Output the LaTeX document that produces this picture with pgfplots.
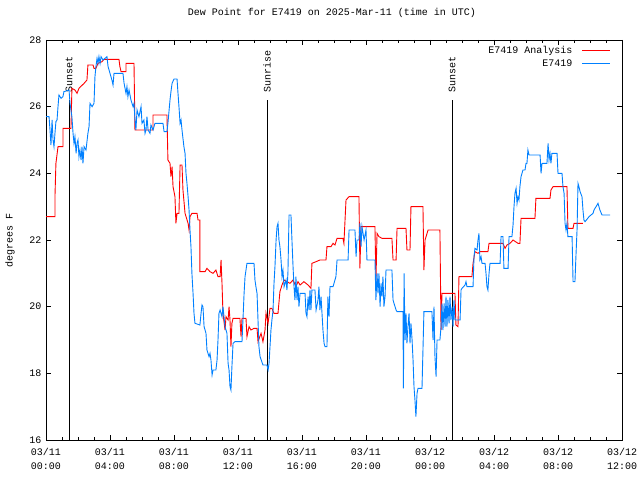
\documentclass[border=0pt]{standalone}
\usepackage{fontspec}
\setmainfont{Liberation Mono}
\usepackage{pgfplots}
\pgfplotsset{compat=1.18}
\definecolor{anared}{RGB}{255,0,0}
\definecolor{obsblue}{RGB}{0,128,255}
\begin{document}
\begin{tikzpicture}[x=1pt,y=1pt]
\useasboundingbox (0,0) rectangle (640,480);
\begin{axis}[
  at={(46pt,40pt)}, anchor=south west,
  scale only axis, width=576pt, height=400pt,
  xmin=0, xmax=36, ymin=16, ymax=28,
  xtick={0,4,...,36},
  xticklabels={03/11\\00:00,03/11\\04:00,03/11\\08:00,03/11\\12:00,03/11\\16:00,03/11\\20:00,03/12\\00:00,03/12\\04:00,03/12\\08:00,03/12\\12:00},
  minor xtick={1,2,3,5,6,7,9,10,11,13,14,15,17,18,19,21,22,23,25,26,27,29,30,31,33,34,35},
  ytick={16,18,...,28},
  tick align=inside,
  major tick length=5pt, minor tick length=3pt,
  xtick pos=both, ytick pos=both,
  axis line style={black, line width=0.9pt},
  every tick/.style={black, line width=0.9pt},
  /pgf/number format/assume math mode=true,
  tick label style={font=\fontsize{10}{14}\selectfont},
  xticklabel style={align=center, yshift=-5pt},
  yticklabel style={xshift=-1pt},
  ylabel={degrees F},
  ylabel style={at={(axis description cs:-0.0625,0.5)}, anchor=center, font=\fontsize{10}{12}\selectfont},
  title={Dew Point for E7419 on 2025-Mar-11 (time in UTC)},
  title style={at={(axis description cs:0.4965,1.0525)}, anchor=center, font=\fontsize{10}{12}\selectfont},
  legend style={draw=none, fill=none, at={(axis description cs:0.9861,0.993)}, anchor=north east,
    font=\fontsize{10}{12}\selectfont, row sep=1.5pt, nodes={inner sep=1.5pt}},
  legend plot pos=right, legend cell align=right,
  legend image code/.code={\path (0pt,0pt); \draw[#1] (8pt,0pt) -- (36pt,0pt);},
]
% Sun lines
\addplot[black, line width=0.9pt, forget plot] coordinates {(1.44,16) (1.44,26.2)};
\addplot[black, line width=0.9pt, forget plot] coordinates {(13.81,16) (13.81,26.2)};
\addplot[black, line width=0.9pt, forget plot] coordinates {(25.38,16) (25.38,26.2)};
\node[rotate=90, anchor=west, font=\fontsize{10}{12}\selectfont, inner sep=0pt] at (axis cs:1.44,26.42) {Sunset};
\node[rotate=90, anchor=west, font=\fontsize{10}{12}\selectfont, inner sep=0pt] at (axis cs:13.81,26.42) {Sunrise};
\node[rotate=90, anchor=west, font=\fontsize{10}{12}\selectfont, inner sep=0pt] at (axis cs:25.38,26.42) {Sunset};
% Analysis
\addplot[anared, line width=0.9pt, sharp plot] coordinates {
(0.00,22.7) (0.56,22.7) (0.56,23.3) (0.62,24.3) (0.75,24.8) (1.06,24.8) (1.06,25.35) (1.56,25.35)
(1.62,26.55) (1.81,26.5) (1.94,26.4) (2.06,26.55) (2.38,26.7) (2.56,26.8) (2.62,27.25) (2.94,27.25)
(3.00,27.15) (3.12,27.15) (3.25,27.3) (3.50,27.35) (3.62,27.42) (4.56,27.42) (4.62,27.2) (4.69,27.05)
(5.00,27.05) (5.00,27.3) (5.50,27.3) (5.56,25.3) (6.69,25.3) (6.69,25.75) (7.56,25.75) (7.62,24.4)
(7.75,24.3) (7.81,23.9) (7.88,24.2) (7.94,23.6) (8.06,23.3) (8.12,22.5) (8.19,22.8) (8.31,22.8)
(8.38,24.25) (8.50,24.25) (8.56,23.5) (8.69,22.8) (8.88,22.5) (8.94,22.3) (9.00,22.7) (9.12,22.8)
(9.44,22.8) (9.50,22.6) (9.62,22.6) (9.62,21.05) (9.94,21.05) (10.06,21.15) (10.25,21.05) (10.44,21.0)
(10.62,21.1) (10.75,20.9) (10.88,20.9) (10.94,21.4) (11.00,20.7) (11.06,19.8) (11.19,19.3) (11.25,19.7)
(11.38,19.6) (11.44,20.0) (11.50,19.6) (11.56,18.8) (11.62,19.5) (11.69,19.65) (12.12,19.65) (12.19,19.1)
(12.25,19.65) (12.50,19.65) (12.56,19.1) (12.69,19.4) (12.81,19.3) (13.00,19.35) (13.19,19.35) (13.25,18.95)
(13.44,19.2) (13.56,18.95) (13.69,19.3) (13.75,19.8) (13.88,19.5) (14.00,19.95) (14.12,19.95) (14.25,19.8)
(14.50,19.8) (14.62,20.45) (14.75,20.65) (14.88,20.8) (15.06,20.75) (15.25,20.7) (15.44,20.8) (15.62,20.6)
(15.75,20.75) (15.88,20.65) (16.12,20.75) (16.38,20.65) (16.56,20.55) (16.62,21.3) (16.88,21.35) (17.12,21.4)
(17.50,21.4) (17.56,21.8) (17.81,21.8) (17.94,21.9) (18.06,21.85) (18.19,22.05) (18.56,22.05) (18.62,21.9)
(18.75,23.2) (18.94,23.3) (19.56,23.3) (19.62,21.15) (19.69,22.4) (20.56,22.4) (20.62,20.75) (20.69,22.2)
(20.81,22.1) (21.00,22.05) (21.62,22.05) (21.69,21.4) (21.88,21.4) (21.94,22.35) (22.50,22.35) (22.56,21.7)
(22.75,21.7) (22.81,23.0) (23.56,23.0) (23.62,21.1) (23.69,22.0) (23.88,22.3) (24.62,22.3) (24.69,19.3)
(24.75,20.4) (25.56,20.4) (25.62,19.45) (25.75,19.4) (25.81,20.9) (26.62,20.9) (26.69,21.3) (26.81,21.65)
(27.00,21.6) (27.12,21.65) (27.62,21.65) (27.69,21.9) (28.56,21.9) (28.69,21.75) (28.81,21.85) (29.00,21.9)
(29.19,22.0) (29.50,21.9) (29.62,21.9) (29.69,22.65) (30.56,22.65) (30.62,23.25) (31.50,23.25) (31.56,23.5)
(31.69,23.6) (32.56,23.6) (32.62,22.35) (32.94,22.35) (33.00,22.5) (33.56,22.5)
};
\addlegendentry{E7419 Analysis}
% Observed
\addplot[obsblue, line width=0.9pt, sharp plot] coordinates {
(0.00,25.7) (0.19,25.7) (0.25,25.3) (0.31,24.85) (0.38,25.6) (0.44,25.0) (0.50,24.8) (0.56,25.2)
(0.62,25.55) (0.69,25.6) (0.75,26.0) (0.81,26.35) (0.94,26.25) (1.06,26.3) (1.12,26.45) (1.44,26.5)
(1.50,26.1) (1.62,25.7) (1.69,25.2) (1.75,24.9) (1.81,25.1) (1.88,24.6) (1.94,24.9) (2.00,25.0)
(2.06,24.5) (2.12,24.7) (2.19,24.4) (2.25,24.8) (2.31,24.3) (2.38,24.8) (2.50,24.7) (2.62,25.2)
(2.69,25.4) (2.75,26.1) (2.88,26.0) (3.00,26.1) (3.06,26.9) (3.12,27.2) (3.19,27.45) (3.25,27.3)
(3.31,27.5) (3.38,27.3) (3.44,27.5) (3.56,27.4) (3.69,27.45) (3.81,27.5) (3.88,27.2) (4.00,27.0)
(4.12,26.8) (4.19,26.65) (4.25,27.0) (4.81,27.0) (4.88,26.7) (5.00,26.4) (5.06,26.6) (5.12,26.3)
(5.19,26.5) (5.31,26.2) (5.44,26.0) (5.50,26.1) (5.56,25.6) (5.62,25.3) (5.69,25.9) (5.81,25.7)
(5.94,26.0) (6.00,25.5) (6.12,25.6) (6.19,25.2) (6.25,25.3) (6.31,25.7) (6.38,25.3) (6.50,25.2)
(6.56,25.45) (6.69,25.3) (6.81,25.5) (7.31,25.5) (7.38,25.25) (7.56,25.25) (7.62,25.5) (7.75,26.2)
(7.81,26.45) (7.88,26.7) (8.00,26.83) (8.19,26.83) (8.25,26.4) (8.31,26.0) (8.38,25.5) (8.44,25.6)
(8.50,25.3) (8.62,24.8) (8.69,24.6) (8.75,24.0) (8.81,23.7) (8.88,23.3) (8.94,22.9) (9.00,22.3)
(9.06,21.8) (9.12,21.0) (9.19,20.4) (9.25,19.8) (9.31,19.5) (9.62,19.45) (9.69,19.8) (9.75,20.05)
(9.81,20.0) (9.88,19.4) (10.00,19.2) (10.06,18.7) (10.19,18.5) (10.25,18.6) (10.31,18.4) (10.38,17.95)
(10.44,18.1) (10.62,18.1) (10.69,18.4) (10.75,19.0) (10.81,19.8) (10.88,19.9) (11.00,19.7) (11.06,20.0)
(11.19,19.4) (11.31,19.2) (11.38,18.3) (11.44,18.1) (11.50,17.6) (11.56,17.5) (11.62,18.2) (11.69,18.9)
(11.81,18.95) (12.25,18.95) (12.31,19.6) (12.38,20.4) (12.44,20.9) (12.56,21.3) (13.00,21.3) (13.06,20.8)
(13.12,20.6) (13.19,20.4) (13.25,19.6) (13.31,18.8) (13.38,18.5) (13.56,18.25) (13.81,18.25) (13.88,18.1)
(13.94,18.3) (14.00,18.8) (14.06,19.3) (14.12,19.6) (14.19,19.9) (14.25,20.7) (14.31,21.2) (14.38,22.0)
(14.44,22.4) (14.50,22.5) (14.56,22.0) (14.62,21.8) (14.69,21.4) (14.75,20.9) (14.81,21.1) (14.88,20.6)
(15.00,20.8) (15.06,20.5) (15.12,21.0) (15.19,22.75) (15.31,22.75) (15.38,21.9) (15.44,21.2) (15.50,20.6)
(15.56,20.2) (15.62,20.9) (15.69,20.2) (15.75,20.6) (15.81,20.0) (15.88,20.4) (16.19,20.4) (16.25,19.8)
(16.31,19.7) (16.38,20.3) (16.44,19.9) (16.50,20.5) (16.56,19.9) (16.62,20.5) (16.81,20.5) (16.88,19.9)
(17.00,20.2) (17.06,20.6) (17.12,19.9) (17.19,20.3) (17.25,19.8) (17.31,19.3) (17.38,18.9) (17.44,18.8)
(17.56,18.8) (17.62,20.3) (17.69,19.7) (17.75,20.6) (17.94,20.6) (18.06,20.8) (18.12,20.9) (18.19,21.4)
(18.88,21.4) (18.94,22.3) (19.31,22.3) (19.38,21.5) (19.44,22.0) (19.56,22.0) (19.62,22.5) (19.69,21.8)
(19.75,22.4) (19.88,22.0) (20.00,22.3) (20.06,21.4) (20.56,21.4) (20.62,20.2) (20.69,21.0) (20.75,20.4)
(20.81,21.0) (20.88,20.0) (20.94,20.7) (21.00,20.3) (21.06,20.9) (21.12,20.0) (21.19,20.3) (21.25,21.1)
(21.62,21.1) (21.69,20.2) (21.75,20.1) (21.88,19.9) (21.94,19.85) (22.31,19.85) (22.34,17.55) (22.38,21.0)
(22.44,19.0) (22.50,19.8) (22.56,18.9) (22.62,19.4) (22.69,19.8) (22.75,18.9) (22.81,19.5) (22.88,19.0)
(22.94,18.4) (23.00,17.6) (23.06,17.2) (23.12,16.7) (23.19,17.4) (23.25,17.55) (23.50,17.55) (23.56,18.7)
(23.62,19.85) (24.12,19.85) (24.19,19.0) (24.25,20.0) (24.31,18.5) (24.38,17.9) (24.44,19.0) (24.62,19.0)
(24.69,19.4) (24.75,20.1) (24.81,19.3) (24.88,20.1) (24.94,19.4) (25.00,20.3) (25.06,19.4) (25.12,20.2)
(25.19,19.5) (25.25,20.3) (25.31,19.6) (25.38,20.0) (25.44,19.4) (25.50,20.2) (25.56,19.6) (25.88,19.6)
(25.94,20.5) (26.00,20.55) (26.19,20.65) (26.25,20.75) (26.31,20.6) (26.69,20.6) (26.75,21.5) (26.81,21.75)
(26.94,21.7) (27.00,22.0) (27.06,22.2) (27.12,21.4) (27.19,21.5) (27.25,21.3) (27.44,21.3) (27.50,21.0)
(27.56,20.6) (27.62,20.5) (27.69,21.0) (27.75,21.3) (28.38,21.3) (28.44,22.1) (28.56,22.1) (28.62,21.15)
(28.88,21.15) (28.94,22.1) (29.12,22.1) (29.19,22.45) (29.25,23.0) (29.31,23.4) (29.38,23.55) (29.44,23.1)
(29.50,23.3) (29.56,23.2) (29.62,23.6) (29.69,23.9) (29.75,24.0) (29.81,24.1) (29.94,24.1) (30.00,24.3)
(30.06,24.3) (30.12,24.7) (30.19,24.55) (30.88,24.55) (30.94,24.0) (31.00,24.3) (31.31,24.3) (31.38,24.9)
(31.44,24.4) (31.50,24.6) (31.56,24.3) (31.62,24.6) (31.94,24.6) (32.00,24.0) (32.25,24.0) (32.31,23.6)
(32.38,23.4) (32.44,22.5) (32.50,22.3) (32.56,22.5) (32.62,22.1) (32.88,22.1) (32.94,20.75) (33.06,20.75)
(33.12,21.5) (33.19,22.3) (33.25,23.7) (33.31,23.6) (33.38,23.45) (33.50,23.3) (33.56,22.9) (33.62,22.6)
(33.69,22.55) (33.94,22.7) (34.19,22.8) (34.25,22.9) (34.44,23.05) (34.50,23.1) (34.62,22.9) (34.75,22.75)
(35.25,22.75)
};
\addlegendentry{E7419}
\end{axis}
\end{tikzpicture}
\end{document}
